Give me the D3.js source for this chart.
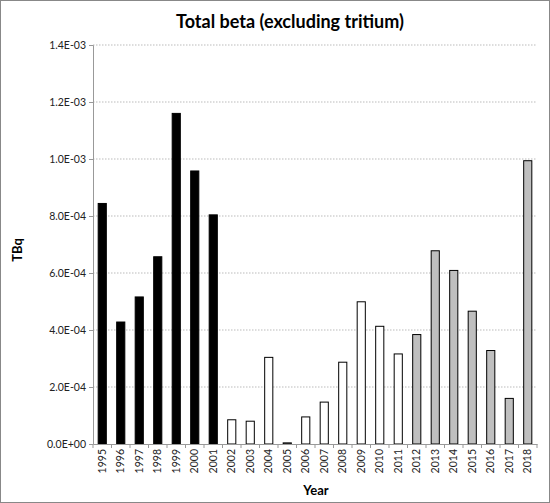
<!DOCTYPE html>
<html><head><meta charset="utf-8">
<script src="https://cdn.jsdelivr.net/npm/d3@7"></script>
<style>body{margin:0;background:#fff}text{font-family:Lato,"Open Sans",sans-serif}</style>
</head><body><div id="chart"></div>
<script>
const years = d3.range(1995, 2019).map(String);
const values = [8.44e-4, 4.28e-4, 5.16e-4, 6.57e-4, 1.16e-3, 9.58e-4, 8.04e-4,
  8.5e-5, 8.0e-5, 3.04e-4, 4e-6, 9.5e-5, 1.47e-4, 2.87e-4, 4.99e-4, 4.13e-4, 3.16e-4,
  3.84e-4, 6.78e-4, 6.09e-4, 4.66e-4, 3.28e-4, 1.60e-4, 9.94e-4];
const groups = ['a','a','a','a','a','a','a','b','b','b','b','b','b','b','b','b','b','c','c','c','c','c','c','c'];
const yTicks = d3.range(0, 1.41e-3, 2e-4);
const fills = {a: '#000', b: '#fff', c: '#bfbfbf'};

const W = 550, H = 503;
const m = {left: 93, right: 13, top: 45, bottom: 59};
const svg = d3.select('#chart').append('svg').attr('width', W).attr('height', H);
svg.append('rect').attr('x', 0.5).attr('y', 0.5).attr('width', W - 1).attr('height', H - 1)
  .attr('fill', '#fff').attr('stroke', '#888');

const x = d3.scaleBand().domain(years).range([m.left, W - m.right]).paddingInner(0.56).paddingOuter(0.28);
const y = d3.scaleLinear().domain([0, 1.4e-3]).range([H - m.bottom, m.top]);
const fmt = v => v.toExponential(1).toUpperCase().replace(/E([+-])(\d)$/, 'E$10$2');

svg.append('g').selectAll('line').data(yTicks.slice(1)).join('line')
  .attr('x1', m.left).attr('x2', W - m.right)
  .attr('y1', d => y(d)).attr('y2', d => y(d))
  .attr('stroke', '#bbb').attr('stroke-dasharray', '1.5,1.5');

const ya = svg.append('g').attr('transform', `translate(${m.left},0)`)
  .call(d3.axisLeft(y).tickValues(yTicks).tickFormat(fmt).tickSize(4));
ya.select('.domain').attr('stroke', '#999');
ya.selectAll('.tick line').attr('stroke', '#999');
ya.selectAll('text').attr('font-size', 10.5).attr('fill', '#222');

svg.append('g').selectAll('rect').data(values).join('rect')
  .attr('x', (d, i) => x(years[i])).attr('width', x.bandwidth())
  .attr('y', d => y(d)).attr('height', d => y(0) - y(d))
  .attr('fill', (d, i) => fills[groups[i]]).attr('stroke', '#000').attr('stroke-width', 1);

const xa = svg.append('g').attr('transform', `translate(0,${y(0)})`)
  .call(d3.axisBottom(x).tickSize(0));
xa.select('.domain').attr('stroke', '#999');
xa.selectAll('.tick line').remove();
const step = x.step();
xa.selectAll('.sep').data(d3.range(years.length + 1)).join('line')
  .attr('x1', i => m.left + i * step).attr('x2', i => m.left + i * step)
  .attr('y1', 0).attr('y2', 4).attr('stroke', '#999');
xa.selectAll('text').attr('font-size', 10.5).attr('fill', '#222')
  .attr('transform', 'rotate(-90)').attr('text-anchor', 'end')
  .attr('x', -5).attr('y', 0).attr('dy', '0.35em');

svg.append('text').attr('x', 290).attr('y', 28).attr('text-anchor', 'middle')
  .attr('font-size', 18).attr('font-weight', 'bold').text('Total beta (excluding tritium)');
svg.append('text').attr('transform', 'translate(22,250) rotate(-90)').attr('text-anchor', 'middle')
  .attr('font-size', 13).attr('font-weight', 'bold').text('TBq');
svg.append('text').attr('x', 316).attr('y', 495).attr('text-anchor', 'middle')
  .attr('font-size', 13).attr('font-weight', 'bold').text('Year');
</script></body></html>
